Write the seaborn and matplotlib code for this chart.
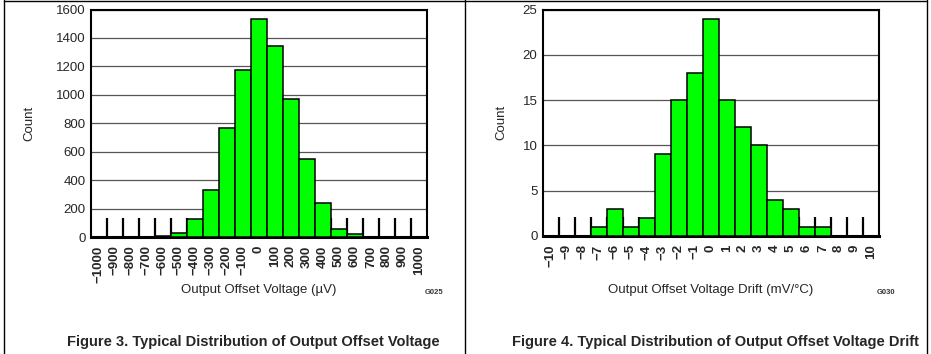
import numpy as np
import pandas as pd
import matplotlib
matplotlib.use("Agg")
import matplotlib.pyplot as plt
from matplotlib.lines import Line2D
import seaborn as sns

# ---- data ----
offset_labels = ["\u22121000", "\u2212900", "\u2212800", "\u2212700", "\u2212600", "\u2212500",
                 "\u2212400", "\u2212300", "\u2212200", "\u2212100", "0", "100", "200", "300",
                 "400", "500", "600", "700", "800", "900", "1000"]
offset_counts = [0, 0, 0, 0, 5, 25, 125, 330, 770, 1175, 1535, 1345, 970, 550, 240, 55, 20, 0, 0, 0, 0]

drift_labels = ["\u221210", "\u22129", "\u22128", "\u22127", "\u22126", "\u22125", "\u22124", "\u22123",
                "\u22122", "\u22121", "0", "1", "2", "3", "4", "5", "6", "7", "8", "9", "10"]
drift_counts = [0, 0, 0, 1, 3, 1, 2, 9, 15, 18, 24, 15, 12, 10, 4, 3, 1, 1, 0, 0, 0]

offset_yticks = [0, 200, 400, 600, 800, 1000, 1200, 1400, 1600]
drift_yticks = [0, 5, 10, 15, 20, 25]

sns.set_theme(style="white")
plt.rcParams["font.family"] = ["Liberation Sans", "DejaVu Sans"]

W, H = 931, 354
fig = plt.figure(figsize=(W / 100, H / 100), dpi=100)

def panel(left, bottom, height, labels, counts, yticks, xlabel, code, caption, code_x, cap_x, ylab_x):
    width = 336
    ax = fig.add_axes([left / W, 1 - bottom / H, width / W, height / H])
    df = pd.DataFrame({"bin": labels, "count": counts})
    sns.barplot(data=df, x="bin", y="count", order=labels, width=1.0,
                color="#00ff00", saturation=1, edgecolor="black", linewidth=1.1, ax=ax, zorder=3)
    n = len(labels)
    ax.set_xlim(-0.5, n - 0.5)
    ax.set_ylim(yticks[0], yticks[-1])
    ax.set_yticks(yticks)
    ax.set_yticklabels([str(v) for v in yticks], fontsize=9.5)
    ax.yaxis.grid(True, color="#555555", linewidth=0.9, zorder=0)
    ax.set_axisbelow(True)
    ax.set_xticks(range(n))
    ax.set_xticklabels(labels, rotation=90, fontsize=9.5, fontweight="bold")
    ax.set_xticks(np.arange(1, n) - 0.5, minor=True)
    ax.tick_params(axis="x", which="major", length=0, pad=6)
    ax.tick_params(axis="x", which="minor", direction="in", length=14, width=1.6, color="black", bottom=True)
    ax.tick_params(axis="y", which="major", length=0, pad=4)
    ax.set_xlabel(xlabel, fontsize=9.5)
    ax.xaxis.set_label_coords(0.5, (bottom - 290) / height)
    ax.xaxis.label.set_va("center")
    ax.set_ylabel("Count", fontsize=9.5)
    ax.yaxis.set_label_coords((ylab_x - left) / width, 0.5)
    ax.yaxis.label.set_va("center")
    for s in ax.spines.values():
        s.set_color("black")
        s.set_linewidth(1.5)
    ax.spines["bottom"].set_linewidth(2.2)
    fig.text(code_x / W, 1 - 292 / H, code, fontsize=5.5, fontweight="bold", ha="center", va="center", color="#333333")
    fig.text(cap_x / W, 1 - 342 / H, caption, fontsize=10.5, fontweight="bold", ha="center", va="center")
    return ax

ax1 = panel(91, 237, 227.5, offset_labels, offset_counts, offset_yticks,
            "Output Offset Voltage (\u00b5V)", "G025",
            "Figure 3. Typical Distribution of Output Offset Voltage", 434, 253, 29)
ax2 = panel(543, 236, 226.5, drift_labels, drift_counts, drift_yticks,
            "Output Offset Voltage Drift (mV/\u00b0C)", "G030",
            "Figure 4. Typical Distribution of Output Offset Voltage Drift", 886, 715, 501)

# page frame lines
for x in (3.5, 464.5, 926.5):
    fig.add_artist(Line2D([x / W, x / W], [0, 1], color="black", linewidth=1.0, transform=fig.transFigure))
fig.add_artist(Line2D([3.5 / W, 926.5 / W], [1 - 0.8 / H, 1 - 0.8 / H], color="black", linewidth=1.0,
                      transform=fig.transFigure))

fig.savefig("out.png", dpi=100)
